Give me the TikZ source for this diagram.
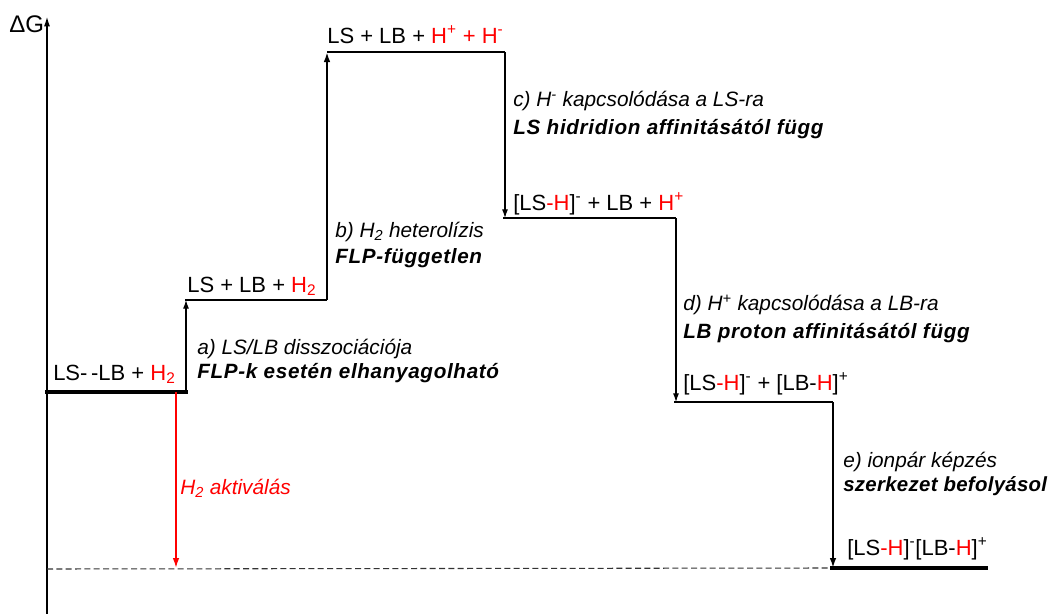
\documentclass[tikz,border=0pt]{standalone}
\usepackage{fontspec}
\setmainfont{Liberation Sans}
\usetikzlibrary{arrows.meta}
\newcommand\hr[1]{\textcolor{red}{#1}}
\newcommand\sps[1]{\textsuperscript{#1}}
\newcommand\sbs[1]{\textsubscript{#1}}
\begin{document}
\begin{tikzpicture}[x=0.75pt,y=-0.75pt,
  lvl/.style={line width=1pt},
  lvlthick/.style={line width=2.4pt},
  thinarrow/.style={line width=0.8pt,-{Latex[length=6.5pt,width=4.5pt]}},
  thickarrow/.style={line width=1.5pt,-{Latex[length=7.5pt,width=5pt]}},
  spec/.style={anchor=base west,inner sep=0pt,font=\fontsize{16.5}{20}\selectfont},
  lab/.style={anchor=base west,inner sep=0pt,font=\fontsize{15.6}{19}\selectfont\itshape},
  labb/.style={anchor=base west,inner sep=0pt,font=\fontsize{15.5}{19}\selectfont\bfseries\itshape\addfontfeatures{LetterSpace=3.2}},
  labbn/.style={anchor=base west,inner sep=0pt,font=\fontsize{15.3}{19}\selectfont\bfseries\itshape\addfontfeatures{LetterSpace=1.5}}]
\useasboundingbox (0,0) rectangle (1054,614);
% coordinates
\coordinate (axb) at (47,614);
\coordinate (axt) at (47,17);
\coordinate (L0a) at (45,392); \coordinate (L0b) at (188,392);
\coordinate (L1a) at (185,300); \coordinate (L1b) at (327,300);
\coordinate (L2a) at (327,52);  \coordinate (L2b) at (505,52);
\coordinate (L3a) at (503,218); \coordinate (L3b) at (676,218);
\coordinate (L4a) at (674,402); \coordinate (L4b) at (833,402);
\coordinate (L5a) at (830,568); \coordinate (L5b) at (988,568);
\coordinate (aS) at (186,392); \coordinate (aE) at (186,300);
\coordinate (cE) at (505,218);
\coordinate (dE) at (676,402);
\coordinate (eE) at (833,568);
\coordinate (rS) at (176,392); \coordinate (rE) at (176,568);
\coordinate (dash0) at (47,569);
% axis
\draw[line width=0.8pt,-{Latex[length=7pt,width=4.5pt]}] (axb) -- (axt);
\node[anchor=base west,inner sep=0pt,font=\fontsize{18}{21}\selectfont] (dg) at (9,32) {ΔG};
% dashed reference
\draw[line width=0.8pt,dash pattern=on 4.5pt off 2.5pt,black!80] (dash0) -- (L5a);
% levels
\draw[lvlthick] (L0a) -- (L0b);
\draw[lvl] (L1a) -- (L1b);
\draw[lvl] (L2a) -- (L2b);
\draw[lvl] (L3a) -- (L3b);
\draw[lvl] (L4a) -- (L4b);
\draw[lvlthick] (L5a) -- (L5b);
% arrows
\draw[thinarrow] (aS) -- (aE);
\draw[thickarrow] (L1b) -- (L2a);
\draw[thinarrow] (L2b) -- (cE);
\draw[thinarrow] (L3b) -- (dE);
\draw[thickarrow] (L4b) -- (eE);
\draw[red,line width=1.3pt,-{Latex[length=7.5pt,width=5pt]}] (rS) -- (rE);
% species
\node[spec] (s0) at (53,380) {LS-\,-LB + \hr{H\sbs{2}}};
\node[spec] (s1) at (187,292) {LS + LB + \hr{H\sbs{2}}};
\node[spec] (s2) at (327,43) {LS + LB + \hr{H\sps{+} + H\sps{-}}};
\node[spec] (s3) at (513,210) {[LS\hr{-H}]\sps{-} + LB + \hr{H\sps{+}}};
\node[spec] (s4) at (683,390) {[LS\hr{-H}]\sps{-} + [LB-\hr{H}]\sps{+}};
\node[spec] (s5) at (847,555) {[LS\hr{-H}]\sps{-}[LB-\hr{H}]\sps{+}};
% labels
\node[lab] (a1) at (197,354) {a) LS/LB disszociációja};
\node[labb] (a2) at (197,378) {FLP-k esetén elhanyagolható};
\node[lab] (b1) at (335,237) {b) H\sbs{2} heterolízis};
\node[labb] (b2) at (335,263) {FLP-független};
\node[lab] (c1) at (513,106) {c) H\sps{-} kapcsolódása a LS-ra};
\node[labb] (c2) at (513,134) {LS hidridion affinitásától függ};
\node[lab] (d1) at (683,310) {d) H\sps{+} kapcsolódása a LB-ra};
\node[labb] (d2) at (683,338) {LB proton affinitásától függ};
\node[lab] (e1) at (843,467) {e) ionpár képzés};
\node[labbn] (e2) at (843,491) {szerkezet befolyásol};
\node[lab,text=red] (h2) at (180,494) {H\sbs{2} aktiválás};
\end{tikzpicture}
\end{document}
